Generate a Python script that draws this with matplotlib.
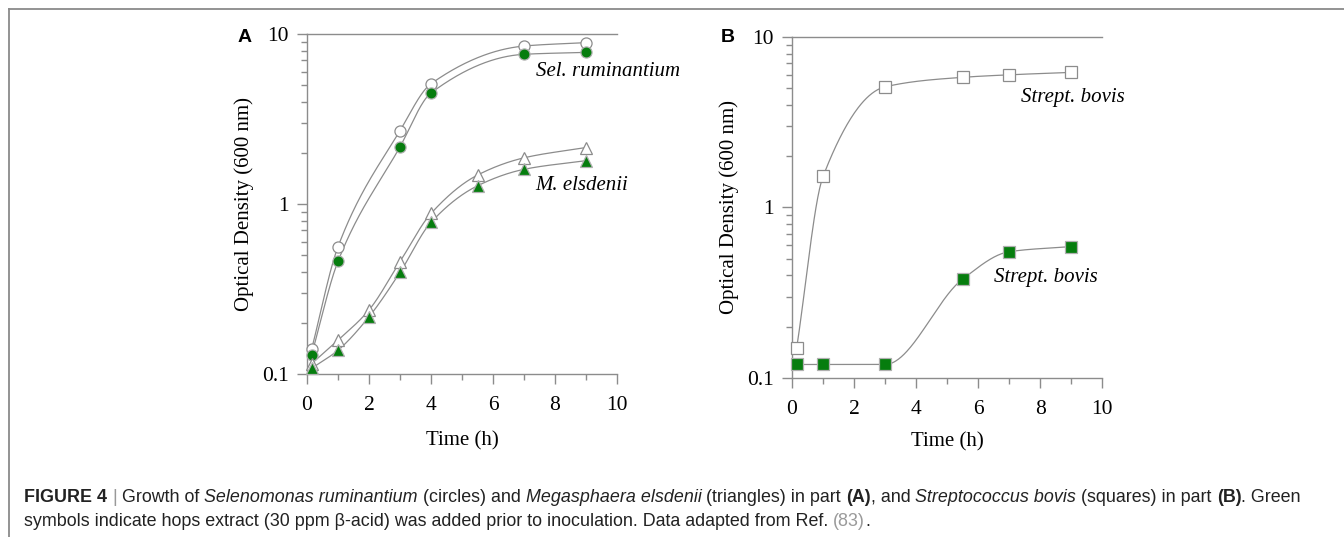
"""Growth curves of rumen bacteria with and without hops extract (Figure 4)."""

import numpy as np
import matplotlib
matplotlib.use('Agg')
import matplotlib.pyplot as plt
from matplotlib.ticker import FixedLocator, LogLocator, NullFormatter

# panel A: Sel. ruminantium (circles)
sel_t = [0.15, 1, 3, 4, 7, 9]
sel_ctrl = [0.14, 0.56, 2.7, 5.1, 8.5, 8.9]
sel_hops = [0.13, 0.46, 2.17, 4.5, 7.6, 7.8]

# panel A: M. elsdenii (triangles)
mel_t = [0.15, 1, 2, 3, 4, 5.5, 7, 9]
mel_ctrl = [0.115, 0.158, 0.238, 0.458, 0.88, 1.48, 1.87, 2.15]
mel_hops = [0.108, 0.138, 0.217, 0.396, 0.78, 1.28, 1.6, 1.8]

# panel B: Strept. bovis (squares)
bov_t = [0.15, 1, 3, 5.5, 7, 9]
bov_ctrl = [0.15, 1.52, 5.1, 5.8, 6.0, 6.2]
bov_hops = [0.12, 0.12, 0.12, 0.38, 0.55, 0.59]

GREEN = '#067d0e'
GRAY = '#8c8c8c'
SERIF = 'Liberation Serif'

plt.rcParams['font.family'] = SERIF
plt.rcParams['font.size'] = 15


def pchip(x, y, xn):
    """Monotone cubic through (x, y), evaluated at xn."""
    x = np.asarray(x, float)
    y = np.asarray(y, float)
    h = np.diff(x)
    d = np.diff(y) / h
    m = np.zeros_like(y)
    m[0], m[-1] = d[0], d[-1]
    for k in range(1, len(x) - 1):
        if d[k - 1] * d[k] > 0:
            w1 = 2 * h[k] + h[k - 1]
            w2 = h[k] + 2 * h[k - 1]
            m[k] = (w1 + w2) / (w1 / d[k - 1] + w2 / d[k])
    idx = np.clip(np.searchsorted(x, xn) - 1, 0, len(x) - 2)
    t = (xn - x[idx]) / h[idx]
    h00 = 2 * t**3 - 3 * t**2 + 1
    h10 = t**3 - 2 * t**2 + t
    h01 = -2 * t**3 + 3 * t**2
    h11 = t**3 - t**2
    return (h00 * y[idx] + h10 * h[idx] * m[idx]
            + h01 * y[idx + 1] + h11 * h[idx] * m[idx + 1])


def series(ax, t, od, marker, filled):
    """Smooth curve on log scale plus markers."""
    tn = np.linspace(t[0], t[-1], 300)
    ax.plot(tn, 10 ** pchip(t, np.log10(od), tn), color=GRAY, lw=0.9,
            zorder=2)
    ax.plot(t, od, marker, ls='none', ms=8, mew=0.9,
            mfc=GREEN if filled else 'white',
            mec='#b0b0b0' if filled else GRAY, zorder=3, clip_on=False)


def style_axes(ax, label_y):
    ax.set_yscale('log')
    ax.set_xlim(0, 10)
    ax.set_ylim(0.1, 10)
    ax.spines['right'].set_visible(False)
    for side in ('left', 'bottom', 'top'):
        ax.spines[side].set_color(GRAY)
        ax.spines[side].set_linewidth(1.0)
    ax.xaxis.set_major_locator(FixedLocator([0, 2, 4, 6, 8, 10]))
    ax.xaxis.set_minor_locator(FixedLocator([1, 3, 5, 7, 9]))
    ax.yaxis.set_major_locator(FixedLocator([0.1, 1, 10]))
    ax.yaxis.set_minor_locator(LogLocator(subs=np.arange(2, 10)))
    ax.yaxis.set_minor_formatter(NullFormatter())
    ax.set_yticklabels(['0.1', '1', '10'])
    ax.tick_params(which='both', direction='out', color=GRAY, width=1.0,
                   labelsize=15.5, top=False, right=False)
    ax.tick_params(which='major', length=7)
    ax.tick_params(axis='x', which='major', pad=9)
    ax.tick_params(axis='y', which='major', pad=6)
    ax.tick_params(which='minor', length=4)
    ax.set_xlabel('Time (h)', fontsize=15)
    ax.set_ylabel('Optical Density (600 nm)', fontsize=15)
    ax.xaxis.set_label_coords(0.5, label_y)
    ax.yaxis.set_label_coords(-0.17, 0.5)


fig = plt.figure(figsize=(13.44, 5.37), dpi=100)

ax_a = fig.add_axes([0.2284, 0.3035, 0.2307, 0.6331])
style_axes(ax_a, -0.168)
series(ax_a, sel_t, sel_ctrl, 'o', False)
series(ax_a, sel_t, sel_hops, 'o', True)
series(ax_a, mel_t, mel_ctrl, '^', False)
series(ax_a, mel_t, mel_hops, '^', True)
ax_a.text(9.7, 6.0, 'Sel. ruminantium', style='italic', fontsize=15,
          ha='center', va='center', clip_on=False)
ax_a.text(8.87, 1.28, 'M. elsdenii', style='italic', fontsize=15,
          ha='center', va='center', clip_on=False)

ax_b = fig.add_axes([0.5893, 0.2961, 0.2307, 0.635])
style_axes(ax_b, -0.158)
series(ax_b, bov_t, bov_ctrl, 's', False)
series(ax_b, bov_t, bov_hops, 's', True)
ax_b.text(9.06, 4.39, 'Strept. bovis', style='italic', fontsize=15,
          ha='center', va='center', clip_on=False)
ax_b.text(8.2, 0.386, 'Strept. bovis', style='italic', fontsize=15,
          ha='center', va='center', clip_on=False)

W, H = 1344, 537
fig.text(245 / W, 1 - 38 / H, 'A', family='Liberation Sans', weight='bold',
         fontsize=14, ha='center', va='center')
fig.text(728 / W, 1 - 38 / H, 'B', family='Liberation Sans', weight='bold',
         fontsize=14, ha='center', va='center')

# frame around the figure (top and left edges)
fig.add_artist(plt.Line2D([9 / W, 1], [1 - 9 / H] * 2, color='#8a8a8a',
                          lw=1.3, transform=fig.transFigure))
fig.add_artist(plt.Line2D([9 / W] * 2, [0, 1 - 9 / H], color='#8a8a8a',
                          lw=1.3, transform=fig.transFigure))

# caption with mixed styles, placed run by run
caption = [
    [('FIGURE 4', 'bold', 'normal', '#222222'),
     (' | ', 'normal', 'normal', '#999999'),
     ('Growth of ', 'normal', 'normal', '#222222'),
     ('Selenomonas ruminantium', 'normal', 'italic', '#222222'),
     (' (circles) and ', 'normal', 'normal', '#222222'),
     ('Megasphaera elsdenii', 'normal', 'italic', '#222222'),
     (' (triangles) in part ', 'normal', 'normal', '#222222'),
     ('(A)', 'bold', 'normal', '#222222'),
     (', and ', 'normal', 'normal', '#222222'),
     ('Streptococcus bovis', 'normal', 'italic', '#222222'),
     (' (squares) in part ', 'normal', 'normal', '#222222'),
     ('(B)', 'bold', 'normal', '#222222'),
     ('. Green', 'normal', 'normal', '#222222')],
    [('symbols indicate hops extract (30 ppm β-acid) was added prior to '
      'inoculation. Data adapted from Ref. ', 'normal', 'normal', '#222222'),
     ('(83)', 'normal', 'normal', '#9a9a9a'),
     ('.', 'normal', 'normal', '#222222')],
]
CAP_FONT = ['Liberation Sans Narrow', 'Liberation Sans']
CAP_SIZE = 12.9
renderer = fig.canvas.get_renderer()


def text_width(s, weight, style):
    t = fig.text(0, 0, s, family=CAP_FONT, weight=weight, style=style,
                 fontsize=CAP_SIZE)
    w = t.get_window_extent(renderer).width
    t.remove()
    return w


space_w = text_width('a a', 'normal', 'normal') - text_width('aa', 'normal',
                                                               'normal')
for line_y, runs in zip((497, 522), caption):
    x = 24.0
    for s, weight, style, color in runs:
        core = s.strip(' ')
        x += (len(s) - len(s.lstrip(' '))) * space_w
        fig.text(x / W, 1 - line_y / H, core, family=CAP_FONT, weight=weight,
                 style=style, color=color, fontsize=CAP_SIZE, va='center')
        x += text_width(core, weight, style)
        x += (len(s) - len(s.rstrip(' '))) * space_w

fig.savefig('out.png', dpi=100)
